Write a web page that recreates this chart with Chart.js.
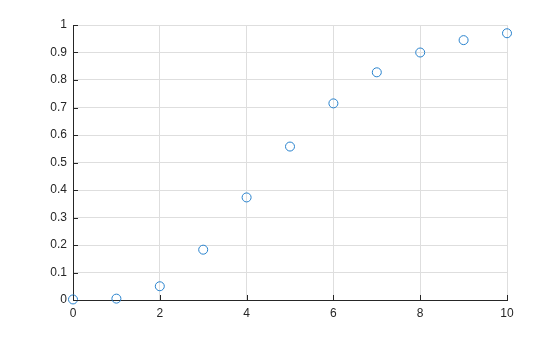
<!DOCTYPE html>
<html>
<head>
<meta charset="utf-8">
<script src="https://cdn.jsdelivr.net/npm/chart.js@4/dist/chart.umd.min.js"></script>
<style>
  html, body { margin: 0; padding: 0; background: #fff; }
  #wrap { width: 560px; height: 337px; }
</style>
</head>
<body>
<div id="wrap"><canvas id="chart" width="560" height="337"></canvas></div>
<script>
// data
const xValues = [0, 1, 2, 3, 4, 5, 6, 7, 8, 9, 10];
const yValues = [0.002, 0.005, 0.05, 0.183, 0.373, 0.558, 0.715, 0.828, 0.9, 0.945, 0.97];
const xTicks = [0, 2, 4, 6, 8, 10];
const yTicks = [0, 0.1, 0.2, 0.3, 0.4, 0.5, 0.6, 0.7, 0.8, 0.9, 1];

const axisColor = '#262626';
const gridColor = '#dedede';

// MATLAB style ticks pointing into the plot area
const innerTicks = {
  id: 'innerTicks',
  afterDatasetsDraw(chart) {
    const ctx = chart.ctx;
    const x = chart.scales.x, y = chart.scales.y;
    ctx.save();
    ctx.strokeStyle = axisColor;
    ctx.lineWidth = 1;
    ctx.beginPath();
    xTicks.forEach(v => {
      const px = Math.round(x.getPixelForValue(v)) + 0.5;
      ctx.moveTo(px, y.bottom);
      ctx.lineTo(px, y.bottom - 5);
    });
    yTicks.forEach(v => {
      const py = Math.round(y.getPixelForValue(v)) + 0.5;
      ctx.moveTo(x.left, py);
      ctx.lineTo(x.left + 5, py);
    });
    ctx.stroke();
    ctx.restore();
  }
};

new Chart(document.getElementById('chart'), {
  type: 'scatter',
  data: {
    datasets: [{
      data: xValues.map((v, i) => ({ x: v, y: yValues[i] })),
      clip: false,
      pointStyle: 'circle',
      pointRadius: 4.5,
      pointBorderWidth: 1,
      pointBorderColor: 'rgb(40,130,205)',
      pointBackgroundColor: 'rgba(0,0,0,0)'
    }]
  },
  options: {
    responsive: false,
    animation: false,
    layout: { padding: { top: 25, right: 53, left: 0, bottom: 0 } },
    plugins: { legend: { display: false }, tooltip: { enabled: false } },
    scales: {
      x: {
        type: 'linear',
        min: 0, max: 10,
        afterBuildTicks: s => { s.ticks = xTicks.map(v => ({ value: v })); },
        afterFit: s => { s.height = 37; },
        grid: { color: gridColor, drawTicks: false },
        border: { color: axisColor, width: 1 },
        ticks: {
          color: axisColor, padding: 6,
          font: { family: 'Liberation Sans, Arial, sans-serif', size: 12 },
          maxRotation: 0
        }
      },
      y: {
        type: 'linear',
        min: 0, max: 1,
        afterBuildTicks: s => { s.ticks = yTicks.map(v => ({ value: v })); },
        afterFit: s => { s.width = 73; },
        grid: { color: gridColor, drawTicks: false },
        border: { color: axisColor, width: 1 },
        ticks: {
          color: axisColor, padding: 6,
          font: { family: 'Liberation Sans, Arial, sans-serif', size: 12 },
          callback: v => String(Math.round(v * 10) / 10)
        }
      }
    }
  },
  plugins: [innerTicks]
});
</script>
</body>
</html>
